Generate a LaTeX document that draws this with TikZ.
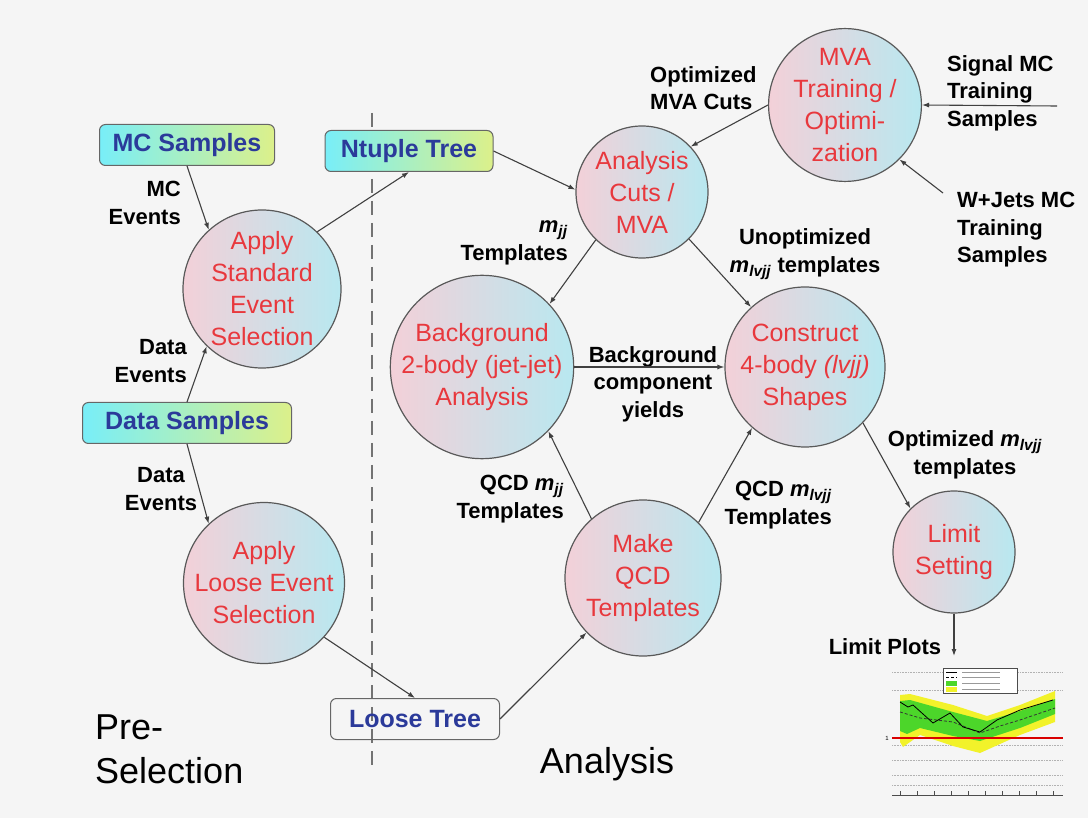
\documentclass[tikz,border=0pt]{standalone}
\usepackage{fontspec}
\setmainfont{Liberation Sans}
\usetikzlibrary{arrows.meta}
\definecolor{procred}{HTML}{E8383D}
\definecolor{sampblue}{HTML}{2B3A9A}
\definecolor{circpink}{HTML}{F3D0D8}
\definecolor{circcyan}{HTML}{B8E8F0}
\definecolor{boxcyan}{HTML}{78EEF8}
\definecolor{boxlime}{HTML}{DCF08A}
\definecolor{bggray}{HTML}{F5F5F5}
\definecolor{bandgreen}{HTML}{4CD62A}
\definecolor{bandyellow}{HTML}{F2F22A}
\newcommand{\mjj}{\textit{m}\textsubscript{\textit{jj}}}
\newcommand{\mlvjj}{\textit{m}\textsubscript{\textit{lvjj}}}

\begin{document}
\begin{tikzpicture}[x=1pt,y=-1pt,
    proc/.style={circle, draw=black!65, line width=1.2pt, left color=circpink, right color=circcyan,
        text=procred, align=center, inner sep=0pt, font=\fontsize{25}{32}\selectfont},
    treebox/.style={rectangle, rounded corners=6pt, draw=black!60, line width=1pt, text=sampblue,
        font=\fontsize{25}{30}\selectfont\bfseries, minimum height=41pt, inner sep=0pt},
    samp/.style={treebox, left color=boxcyan, right color=boxlime},
    lbl/.style={font=\fontsize{22}{27.5}\selectfont\bfseries, inner sep=0pt},
    arr/.style={-{Latex[length=7pt,width=5pt]}, line width=1.1pt, draw=black!75}]

    \fill[bggray] (0,0) rectangle (1088,818);
    \useasboundingbox (0,0) rectangle (1088,818);

    % split between pre-selection and analysis
    \draw[black!55, line width=2.8pt, dash pattern=on 14pt off 8pt] (372,113) -- (372,770);

    \node[samp, minimum width=175pt] (mcsamp) at (187,145) {MC Samples};
    \node[samp, minimum width=168pt] (ntuple) at (409,151) {Ntuple Tree};
    \node[samp, minimum width=209pt] (datasamp) at (187,423) {Data Samples};
    \node[treebox, minimum width=169pt] (ltree) at (415,719) {Loose Tree};

    \node[proc, minimum size=158pt] (std) at (262,289) {Apply\\Standard\\Event\\Selection};
    \node[proc, minimum size=160pt] (loose) at (264,583) {Apply\\Loose Event\\Selection};
    \node[proc, minimum size=132pt] (ana) at (642,192) {Analysis\\Cuts /\\MVA};
    \node[proc, minimum size=144pt] (mva) at (845,105) {MVA\\Training /\\Optimi-\\zation};
    \node[proc, minimum size=174pt] (bkg) at (482,367) {Background\\2-body (jet-jet)\\Analysis};
    \node[proc, minimum size=160pt] (cons) at (805,367) {Construct\\4-body \textit{(lvjj)}\\Shapes};
    \node[proc, minimum size=156pt] (qcd) at (643,578) {Make\\QCD\\Templates};
    \node[proc, minimum size=122pt] (lim) at (954,552) {Limit\\Setting};

    \coordinate (sigmc) at (1057,106);
    \coordinate (wjets) at (943,193);
    \coordinate (plottop) at (954,656);

    \node[lbl, anchor=east, align=right] (mcev) at (181,203) {MC\\Events};
    \node[lbl, anchor=east, align=right] (dataev) at (187,361) {Data\\Events};
    \node[lbl, align=center] (dataevb) at (161,489) {Data\\Events};
    \node[lbl, anchor=west, align=left] (optcut) at (650,88) {Optimized\\MVA Cuts};
    \node[lbl, anchor=west, align=left] (sigtxt) at (947,93) {Signal MC\\Training\\Samples};
    \node[lbl, anchor=west, align=left] (wjtxt) at (957,230) {W+Jets MC\\Training\\Samples};
    \node[lbl, anchor=east, align=right] (mjjtxt) at (568,243) {\mjj\\Templates};
    \node[lbl, align=center] (unopt) at (805,254) {Unoptimized\\\mlvjj{} templates};
    \node[lbl, align=center] (yields) at (653,384) {Background\\component\\yields};
    \node[lbl, anchor=east, align=right] (qcdmjj) at (564,499) {QCD \mjj\\Templates};
    \node[lbl, anchor=east, align=right] (qcdmlvjj) at (832,505) {QCD \mlvjj\\Templates};
    \node[lbl, align=center] (optmlvjj) at (965,455) {Optimized \mlvjj\\templates};
    \node[lbl] (limplot) at (885,647) {Limit Plots};
    \node[font=\fontsize{36}{44}\selectfont, anchor=west, align=left, inner sep=0pt] (presel) at (95,749) {Pre-\\Selection};
    \node[font=\fontsize{36}{44}\selectfont, inner sep=0pt] (anatxt) at (607,764) {Analysis};

    \draw[arr] (mcsamp.south) -- (std.132);
    \draw[arr] (datasamp.north) -- (std.226);
    \draw[arr] (datasamp.south) -- (loose.133);
    \draw[arr] (std.46) -- (ntuple.south);
    \draw[arr] (ntuple.east) -- (ana.178);
    \draw[arr] (loose.-42) -- (ltree.north);
    \draw[arr] (ltree.east) -- (qcd.224);
    \draw[arr] (mva.west) -- (ana.43);
    \draw[arr] (sigmc) -- (mva.east);
    \draw[arr] (wjets) -- (mva.-45);
    \draw[arr] (ana.226) -- (bkg.43);
    \draw[arr] (ana.-45) -- (cons.132);
    \draw[arr] (bkg.east) -- (cons.west);
    \draw[arr] (qcd.131) -- (bkg.-44);
    \draw[arr] (qcd.45) -- (cons.229);
    \draw[arr] (cons.-44) -- (lim.135);
    \draw[arr] (lim.south) -- (plottop);

    % limit plot
    \foreach \gy in {672,690,745,760,775,785}
        \draw[black!30, densely dotted, line width=0.6pt] (892,\gy) -- (1063,\gy);
    \fill[bandyellow] (900,695) -- (910,694) -- (953,705) -- (987,716) -- (1020,705) -- (1055,691)
        -- (1055,722) -- (1020,735) -- (980,753) -- (953,746) -- (920,735) -- (903,747) -- (900,742) -- cycle;
    \fill[bandgreen] (900,701) -- (910,700) -- (953,712) -- (987,721) -- (1020,711) -- (1055,699)
        -- (1055,714) -- (1020,728) -- (980,741) -- (953,736) -- (920,728) -- (907,734) -- (900,731) -- cycle;
    \draw[black!80, line width=0.8pt, densely dashed] (900,712) -- (920,718) -- (953,722) -- (980,733) -- (1000,726) -- (1020,720) -- (1055,708);
    \draw[black, line width=0.8pt] (900,702) -- (908,707) -- (913,705) -- (933,723) -- (950,713) -- (963,727) -- (980,732) -- (997,720) -- (1020,710) -- (1053,700);
    \draw[red!85!black, line width=1.3pt] (892,738) -- (1063,738);
    \node[font=\fontsize{6}{6}\selectfont, inner sep=0pt] (yone) at (887,738) {1};
    \draw[black!70, line width=0.6pt] (892,795) -- (1063,795);
    \foreach \tx in {900,917,...,1060}
        \draw[black!70, line width=0.5pt] (\tx,795) -- (\tx,791);
    \draw[black!70, line width=0.5pt, fill=white] (943,668) rectangle (1017,693);
    \fill[bandgreen] (946,681) rectangle (957,686);
    \fill[bandyellow] (946,687) rectangle (957,692);
    \draw[black, line width=0.4pt] (946,672) -- (957,672);
    \draw[black, line width=0.4pt, densely dashed] (946,677) -- (957,677);
    \foreach \ly in {672,677,683,689}
        \draw[black!40, line width=0.4pt] (962,\ly) -- (1000,\ly);
\end{tikzpicture}
\end{document}
